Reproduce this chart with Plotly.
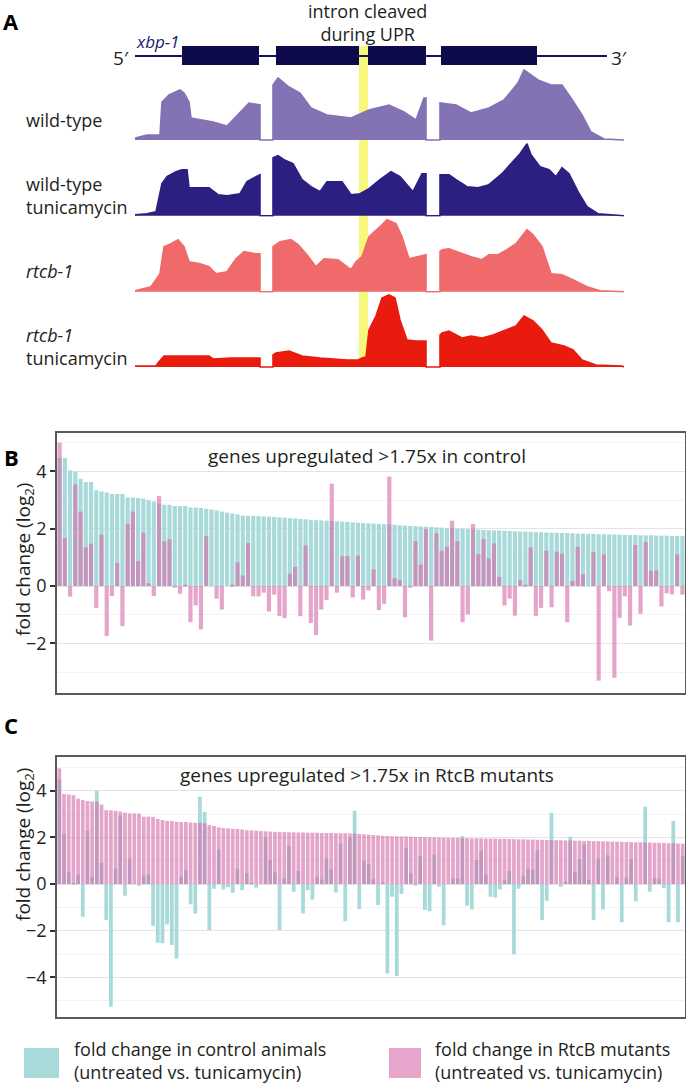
import plotly.graph_objects as go

W, H = 686, 1089
FONT = "Open Sans"
TEXT = "#231f20"

# ---- panel A: xbp-1 locus (positions in arbitrary locus units) ----
LOCUS_LEN = 489
GENE_SPAN = [0, 472]
EXON_STARTS = [47, 141, 233, 306]
EXON_ENDS = [124, 224, 291, 402]
UPR_INTRON = [224, 233]

wt_cov = [(0, 2), (12, 5), (25, 5), (27, 38), (34, 45), (45, 50), (49, 47), (54, 38), (56, 22),
          (78, 18), (92, 14), (103, 25), (114, 37), (125, 35), (125, 0), (138, 0), (138, 55),
          (143, 62), (154, 53), (165, 47), (176, 32), (192, 25), (216, 22), (234, 30), (254, 35),
          (269, 28), (281, 20), (289, 42), (291, 42), (291, 0), (305, 0), (305, 37), (321, 35),
          (336, 27), (354, 32), (369, 40), (383, 57), (389, 70), (403, 60), (416, 55), (427, 55),
          (436, 42), (447, 25), (456, 8), (469, 1), (489, 0)]
wt_tun_cov = [(0, 1), (12, 2), (21, 4), (27, 32), (32, 39), (41, 44), (47, 46), (52, 46), (54, 28),
              (74, 28), (83, 21), (92, 20), (105, 22), (112, 34), (121, 39), (125, 41), (125, 0),
              (138, 0), (138, 58), (143, 60), (149, 56), (158, 52), (167, 36), (176, 29), (185, 24),
              (192, 34), (207, 34), (216, 21), (225, 22), (234, 27), (245, 36), (256, 44), (265, 39),
              (278, 24), (287, 42), (291, 42), (291, 0), (305, 0), (305, 41), (314, 41), (321, 36),
              (332, 29), (343, 28), (354, 31), (367, 42), (376, 52), (385, 62), (392, 72), (396, 61),
              (405, 49), (414, 46), (421, 39), (427, 48), (434, 42), (443, 24), (452, 9), (463, 2),
              (489, 0)]
rtcb_cov = [(0, 1), (16, 5), (25, 18), (29, 45), (36, 48), (43, 52), (49, 45), (54, 30), (65, 28),
            (74, 25), (81, 18), (92, 20), (101, 33), (109, 40), (121, 38), (125, 38), (125, 0),
            (138, 0), (138, 45), (141, 47), (145, 50), (156, 52), (163, 47), (172, 37), (181, 25),
            (189, 33), (203, 32), (216, 22), (221, 30), (227, 35), (234, 55), (245, 65), (252, 72),
            (261, 68), (267, 55), (274, 33), (283, 35), (289, 37), (291, 37), (291, 0), (305, 0),
            (305, 40), (307, 42), (314, 43), (327, 38), (336, 35), (347, 32), (354, 37), (363, 37),
            (372, 42), (381, 48), (392, 62), (398, 57), (407, 45), (416, 18), (427, 17), (438, 12),
            (452, 5), (465, 1), (489, 0)]
rtcb_tun_cov = [(0, 1), (21, 1), (23, 4), (29, 11), (43, 11), (74, 11), (78, 8), (96, 9), (125, 9),
                (125, 0), (138, 0), (138, 12), (141, 14), (154, 16), (167, 11), (185, 9), (212, 7),
                (223, 7), (227, 9), (231, 10), (234, 37), (241, 51), (247, 69), (254, 72), (260, 69),
                (265, 47), (272, 27), (281, 26), (289, 26), (291, 26), (291, 0), (305, 0), (305, 32),
                (307, 34), (314, 36), (327, 29), (336, 31), (347, 29), (358, 32), (372, 37), (381, 41),
                (389, 51), (398, 46), (407, 37), (416, 24), (429, 21), (438, 17), (447, 7), (461, 2),
                (487, 1), (489, 0)]

# coverage, colour, label, baseline (px from top), label centre (px from top)
TRACKS = [
    (wt_cov, "#8372b4", "wild-type", 140, 120),
    (wt_tun_cov, "#2b1f82", "wild-type<br>tunicamycin", 215.7, 195),
    (rtcb_cov, "#f06a6c", "<i>rtcb-1</i>", 291.7, 271),
    (rtcb_tun_cov, "#e91b0f", "<i>rtcb-1</i><br>tunicamycin", 367, 346),
]

# ---- panel B: genes up >1.75x in control (log2 fold change) ----
b_control = [4.47, 4.47, 4.03, 4.0, 3.74, 3.63, 3.63, 3.34, 3.3, 3.26,
             3.21, 3.21, 3.21, 3.09, 3.09, 3.07, 3.05, 2.99, 2.95, 2.88,
             2.84, 2.84, 2.79, 2.79, 2.79, 2.74, 2.74, 2.72, 2.7, 2.67,
             2.64, 2.6, 2.56, 2.53, 2.5, 2.46, 2.45, 2.45, 2.44, 2.43,
             2.42, 2.41, 2.4, 2.39, 2.37, 2.36, 2.34, 2.33, 2.31, 2.3,
             2.29, 2.28, 2.27, 2.26, 2.25, 2.24, 2.22, 2.21, 2.2, 2.19,
             2.18, 2.17, 2.16, 2.15, 2.14, 2.12, 2.11, 2.1, 2.09, 2.08,
             2.07, 2.06, 2.05, 2.04, 2.03, 2.02, 2.01, 2.0, 1.99, 1.98,
             1.97, 1.96, 1.95, 1.94, 1.94, 1.93, 1.92, 1.91, 1.9, 1.9,
             1.89, 1.88, 1.88, 1.87, 1.86, 1.86, 1.85, 1.85, 1.84, 1.83,
             1.83, 1.82, 1.82, 1.81, 1.81, 1.8, 1.8, 1.79, 1.79, 1.78,
             1.78, 1.77, 1.77, 1.77, 1.76, 1.76, 1.76, 1.75, 1.75, 1.75]
b_rtcb = [5.0, 1.67, -0.37, 3.55, 2.6, 1.35, 1.48, -0.76, 1.79, -1.74,
          -0.35, 0.8, -1.4, 2.17, 2.6, 0.87, 1.86, 0.1, -0.35, 3.14,
          1.56, 1.64, -0.05, -0.27, 0.03, -1.26, -0.67, -1.51, 1.74, 0.0,
          -0.44, -0.82, 0.0, 0.05, 0.83, 0.37, 1.5, -0.36, -0.36, -0.23,
          -0.89, -0.3, -1.04, -1.12, 0.43, 0.67, -1.05, 1.42, -1.29, -1.71,
          -0.82, -0.49, 3.57, -0.23, 1.04, 1.04, -0.4, 1.06, -0.47, -0.15,
          0.58, -0.84, -0.62, 3.82, 0.28, 0.22, -1.09, -0.03, 1.57, 0.75,
          1.99, -1.9, 1.84, 1.23, 1.37, 2.28, 1.57, -1.26, -0.99, 2.16,
          1.11, 1.64, 0.96, 1.49, 0.32, -0.68, -0.44, -1.03, 0.2, 0.02,
          1.35, -1.04, -0.76, 1.23, -0.74, 1.2, 1.13, -1.26, 0.18, 1.37,
          0.41, 0.0, 1.19, -3.3, 1.11, -0.18, -3.2, -1.11, -0.36, -1.38,
          1.43, -0.97, 1.54, 0.53, 0.55, -0.71, -0.25, -0.29, 1.11, -0.3]

# ---- panel C: genes up >1.75x in RtcB mutants ----
c_control = [4.49, 2.14, 0.51, 0.03, 0.4, -1.4, 2.29, 0.31, 4.0, 0.91,
             -1.54, -5.26, 0.67, 2.93, -0.5, 1.1, 0.0, -0.04, 0.36, 0.41,
             -1.79, -2.51, -2.54, -1.73, -2.61, -3.19, 0.31, 0.6, -0.86, -1.26,
             3.74, 3.09, -1.97, -0.2, 1.49, -0.23, -0.14, -0.37, 0.66, -0.26,
             0.46, 0.03, -0.16, 0.0, 2.0, 1.03, 0.5, -1.97, 0.24, 1.63,
             -0.33, 0.56, -1.26, -0.26, -0.66, 0.31, 0.2, 1.11, 0.63, -0.36,
             1.74, -1.59, 1.97, 3.14, -1.07, 0.99, 0.86, 0.21, -0.9, 0.09,
             -3.83, -0.54, -3.94, -0.43, 1.56, 0.46, -0.07, 1.21, -1.11, -1.16,
             1.27, -0.11, -1.76, 0.0, 0.23, 0.24, 2.06, -0.93, -1.09, 1.03,
             1.41, 0.41, -0.54, -0.57, -0.23, 0.17, 0.56, -3.01, -0.2, 0.34,
             0.66, 0.6, 1.46, -1.54, -0.71, 3.06, 0.0, -0.11, 0.09, 2.03,
             0.51, 1.07, 1.71, 0.17, -1.54, 1.1, -1.09, 1.24, 0.0, 0.29,
             -1.64, 0.27, 1.07, -0.74, 0.0, 3.31, -0.33, 0.26, 0.23, -0.17,
             -1.64, 2.7, -1.64, 1.2]
c_rtcb = [4.96, 3.86, 3.84, 3.81, 3.66, 3.6, 3.56, 3.54, 3.53, 3.41,
          3.17, 3.16, 3.14, 3.11, 3.06, 3.03, 3.03, 3.02, 2.89, 2.89,
          2.88, 2.79, 2.74, 2.71, 2.7, 2.67, 2.66, 2.66, 2.64, 2.63,
          2.63, 2.6, 2.53, 2.49, 2.43, 2.4, 2.39, 2.37, 2.36, 2.34,
          2.31, 2.3, 2.29, 2.27, 2.26, 2.25, 2.24, 2.23, 2.23, 2.22,
          2.22, 2.21, 2.21, 2.2, 2.2, 2.2, 2.19, 2.19, 2.19, 2.18,
          2.18, 2.18, 2.17, 2.17, 2.15, 2.13, 2.12, 2.1, 2.09, 2.07,
          2.06, 2.05, 2.05, 2.04, 2.04, 2.03, 2.02, 2.02, 2.01, 2.01,
          2.0, 2.0, 1.99, 1.99, 1.98, 1.98, 1.97, 1.97, 1.96, 1.96,
          1.96, 1.95, 1.95, 1.95, 1.94, 1.94, 1.93, 1.93, 1.92, 1.92,
          1.91, 1.91, 1.9, 1.9, 1.89, 1.89, 1.88, 1.88, 1.87, 1.87,
          1.86, 1.86, 1.85, 1.85, 1.84, 1.84, 1.83, 1.83, 1.82, 1.82,
          1.81, 1.8, 1.8, 1.79, 1.79, 1.78, 1.78, 1.77, 1.77, 1.76,
          1.75, 1.75, 1.74, 1.73]

CYAN = "rgb(168,218,218)"
PINK = "rgb(213,107,170)"
PINK_OPACITY = 0.6
LEGEND_LABELS = ["fold change in control animals<br>(untreated vs. tunicamycin)",
                 "fold change in RtcB mutants<br>(untreated vs. tunicamycin)"]


def px(x):
    return x / W


def py(y):
    return 1 - y / H


def text(fig, x, y, s, size=19, color=TEXT, xanchor="center", **kw):
    fig.add_annotation(x=px(x), y=py(y), xref="paper", yref="paper", text=s, showarrow=False,
                       xanchor=xanchor, yanchor="middle", font=dict(family=FONT, size=size, color=color), **kw)


def build_panel_a(fig):
    span = 75
    for i, (cov, color, label, base, label_y) in enumerate(TRACKS):
        suffix = "" if i == 0 else str(i + 1)
        fig.add_trace(go.Scatter(x=[p for p, _ in cov], y=[d for _, d in cov], mode="lines",
                                 fill="tozeroy", fillcolor=color, line=dict(color=color, width=1.6),
                                 xaxis="x", yaxis="y" + suffix, hoverinfo="skip"))
        fig.layout["yaxis" + suffix] = dict(
            domain=[py(base + 1), py(base + 1 - span)], range=[-1, span - 1], visible=False,
            fixedrange=True)
        text(fig, 24, label_y, label, size=18, xanchor="left", align="left")

    fig.update_layout(xaxis=dict(domain=[px(135), px(624)], range=[0, LOCUS_LEN], visible=False,
                                 anchor="y"))

    # intron removed during UPR, highlighted through all tracks
    fig.add_shape(type="rect", xref="x", yref="paper", x0=UPR_INTRON[0], x1=UPR_INTRON[1],
                  y0=py(367), y1=py(46), fillcolor="#f7f77c", line_width=0, layer="below")
    fig.add_shape(type="line", xref="x", yref="paper", x0=GENE_SPAN[0], x1=GENE_SPAN[1],
                  y0=py(56), y1=py(56), line=dict(color="#16145e", width=2))
    for s, e in zip(EXON_STARTS, EXON_ENDS):
        fig.add_shape(type="rect", xref="x", yref="paper", x0=s, x1=e, y0=py(65), y1=py(46),
                      fillcolor="#0d0b4b", line_width=0)

    text(fig, 121, 58, "5′")
    text(fig, 619, 58, "3′")
    text(fig, 157, 42, "<i>xbp-1</i>", size=17, color="#1a1a6e")
    text(fig, 367, 22, "intron cleaved<br>during UPR", size=18)
    text(fig, 11, 21, "<b>A</b>", size=22, color="black")


def build_bar_panel(fig, n, control, rtcb, top, bottom, yrange, tick_vals, caption, cap_y, title_y,
                    letter):
    xs = list(range(1, len(control) + 1))
    xa, ya = f"x{n}", f"y{n + 3}"
    fig.add_trace(go.Bar(x=xs, y=control, marker=dict(color=CYAN, line_width=0),
                         xaxis=xa, yaxis=ya, hoverinfo="skip"))
    fig.add_trace(go.Bar(x=xs, y=rtcb, marker=dict(color=PINK, line_width=0), opacity=PINK_OPACITY,
                         xaxis=xa, yaxis=ya, hoverinfo="skip"))
    fig.layout[f"xaxis{n}"] = dict(domain=[px(57), px(685)], range=[0.5, len(control) + 0.5],
                                   anchor=ya, showticklabels=False, ticks="", showgrid=False,
                                   zeroline=False, showline=True, mirror=True, linecolor="#5a5a5a",
                                   linewidth=1.5)
    fig.layout[f"yaxis{n + 3}"] = dict(
        domain=[py(bottom), py(top)], range=yrange, anchor=xa, tickvals=tick_vals,
        ticks="outside", ticklen=5, tickwidth=1.5, tickcolor="#333",
        tickfont=dict(family=FONT, size=18, color=TEXT), showgrid=True, gridcolor="#e4e4e4",
        gridwidth=1, zeroline=False, showline=True, mirror=True, linecolor="#5a5a5a", linewidth=1.5,
        minor=dict(dtick=1, tick0=1, showgrid=True, gridcolor="#f3f3f3", ticks=""))
    text(fig, 367, cap_y, caption)
    text(fig, 24, title_y, "fold change (log<sub>2</sub>)", textangle=-90)
    text(fig, 11, letter[1], f"<b>{letter[0]}</b>", size=22, color="black")


def build_legend(fig):
    squares = [(24, 59, "rgb(168,218,218)", 72), (389, 421, "rgb(230,166,204)", 433)]
    for (x0, x1, color, tx), label in zip(squares, LEGEND_LABELS):
        fig.add_shape(type="rect", xref="paper", yref="paper", x0=px(x0), x1=px(x1),
                      y0=py(1078), y1=py(1048), fillcolor=color, line_width=0)
        text(fig, tx, 1060, label, size=18, xanchor="left", align="left")


fig = go.Figure()
build_panel_a(fig)
build_bar_panel(fig, 2, b_control, b_rtcb, 432.7, 693, [-3.73, 5.35], [-2, 0, 2, 4],
                "genes upregulated >1.75x in control", 456, 560, ("B", 457))
build_bar_panel(fig, 3, c_control, c_rtcb, 756.7, 1017.3, [-5.71, 5.46], [-4, -2, 0, 2, 4],
                "genes upregulated >1.75x in RtcB mutants", 775, 845, ("C", 725))
build_legend(fig)

fig.update_layout(width=W, height=H, margin=dict(l=0, r=0, t=0, b=0), autosize=False,
                  showlegend=False, barmode="overlay", bargap=0.2,
                  paper_bgcolor="white", plot_bgcolor="rgba(0,0,0,0)",
                  font=dict(family=FONT, color=TEXT))
fig.write_html("out.html", config={"displayModeBar": False},
               post_script="document.body.style.margin='0px';document.body.style.overflow='hidden';")
